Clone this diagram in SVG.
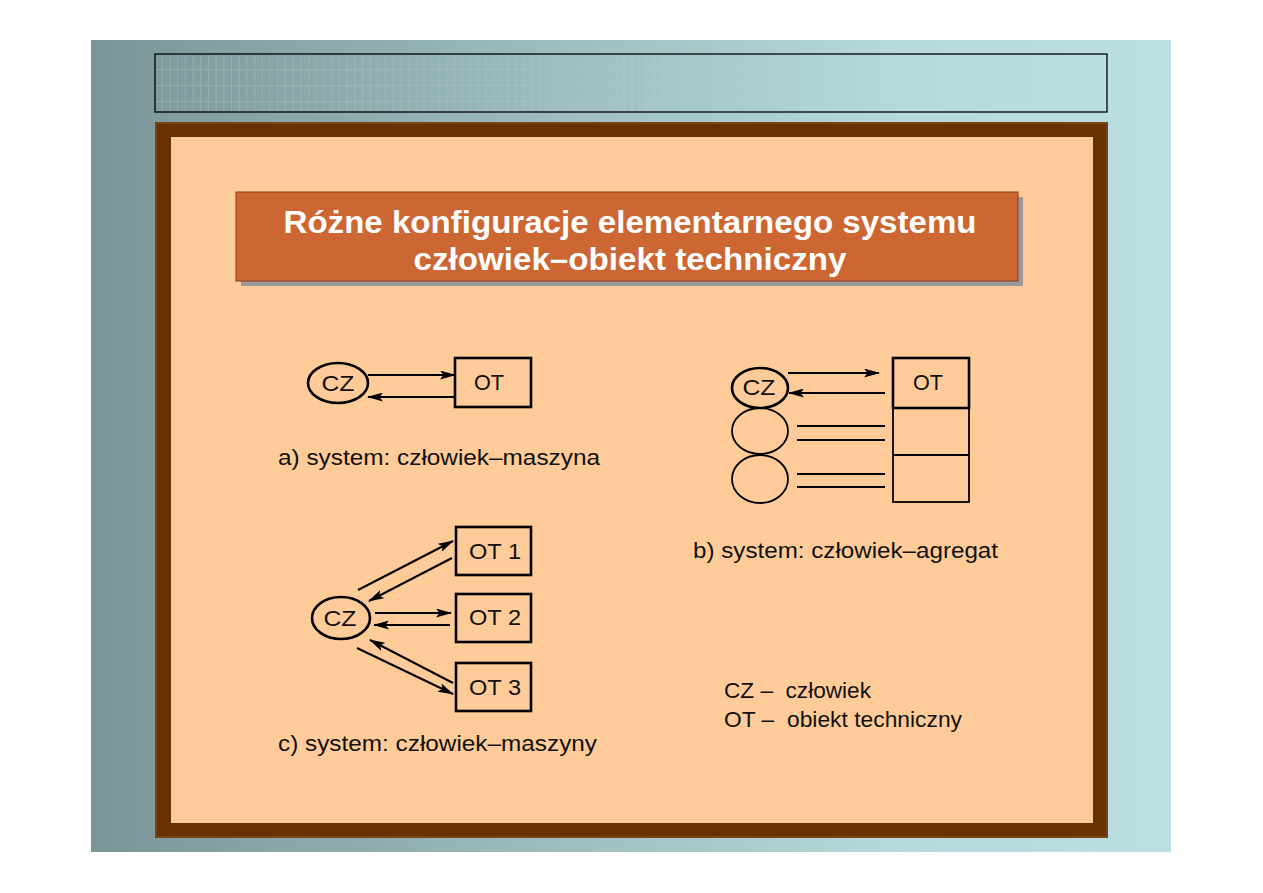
<svg xmlns="http://www.w3.org/2000/svg" width="1263" height="893" viewBox="0 0 1263 893">
<defs>
<linearGradient id="bg" x1="0" y1="0" x2="1" y2="0">
<stop offset="0" stop-color="#7a9597"/>
<stop offset="0.45" stop-color="#9fbfc2"/>
<stop offset="0.75" stop-color="#b5d9dc"/>
<stop offset="1" stop-color="#bbdfe2"/>
</linearGradient>
<linearGradient id="fade" x1="0" y1="0" x2="1" y2="0">
<stop offset="0" stop-color="#fff" stop-opacity="1"/>
<stop offset="0.75" stop-color="#fff" stop-opacity="0"/>
</linearGradient>
<pattern id="grid" x="155" y="54" width="7.7" height="16" patternUnits="userSpaceOnUse">
<path d="M7.2 0V16M0 15.5H7.7" stroke="#ffffff" stroke-width="1" fill="none" stroke-opacity="0.18"/>
</pattern>
<mask id="gm"><rect x="155" y="54" width="952" height="58" fill="url(#fade)"/></mask>
<marker id="ah" viewBox="0 0 16 9" refX="15" refY="4.5" markerWidth="16" markerHeight="9" markerUnits="userSpaceOnUse" orient="auto">
<path d="M0 0L16 4.5L0 9L3.5 4.5Z" fill="#000"/>
</marker>
<style>
.t{font-family:"Liberation Sans",Arial,sans-serif;fill:#111;font-size:22.5px}
.n{font-family:"Liberation Sans",Arial,sans-serif;fill:#111;font-size:22.5px;text-anchor:middle}
.ttl{font-family:"Liberation Sans",Arial,sans-serif;fill:#fff;font-size:31.5px;font-weight:bold;text-anchor:middle}
.sh{fill:none;stroke:#000;stroke-width:2.6}
.ln{stroke:#000;stroke-width:1.8;fill:none}
.ar{stroke:#000;stroke-width:2;fill:none;marker-end:url(#ah)}
</style>
</defs>
<rect width="1263" height="893" fill="#fff"/>
<rect x="91" y="40" width="1080" height="812" fill="url(#bg)"/>
<g id="header">
<rect x="155" y="54" width="952" height="58" fill="url(#grid)" mask="url(#gm)"/>
<rect x="155" y="54" width="952" height="58" fill="none" stroke="#000" stroke-width="1.3"/>
</g>
<g id="frame">
<rect x="155" y="122" width="953" height="716" fill="#663300"/>
<rect x="156" y="123" width="951" height="714" fill="none" stroke="#7a4316" stroke-width="2"/>
<rect x="171" y="137" width="922" height="686" fill="#ffcc99"/>
</g>
<g id="title">
<rect x="241" y="197" width="782" height="89" fill="#999"/>
<rect x="236" y="192" width="782" height="89" fill="#cc6633" stroke="#8a3d1a" stroke-width="1"/>
<text class="ttl" x="630" y="233" textLength="693" lengthAdjust="spacingAndGlyphs">Różne konfiguracje elementarnego systemu</text>
<text class="ttl" x="630" y="270" textLength="433" lengthAdjust="spacingAndGlyphs">człowiek–obiekt techniczny</text>
</g>
<g id="a-cz"><ellipse class="sh" cx="338" cy="383" rx="30" ry="20"/><text class="n" x="338" y="391" textLength="33" lengthAdjust="spacingAndGlyphs">CZ</text></g>
<g id="a-ot"><rect class="sh" x="455" y="358" width="76" height="49"/><text class="n" x="489" y="390" textLength="30" lengthAdjust="spacingAndGlyphs">OT</text></g>
<text class="t" x="278" y="465" textLength="322" lengthAdjust="spacingAndGlyphs">a) system: człowiek–maszyna</text>
<g id="b-cz"><ellipse class="sh" cx="760" cy="388" rx="28" ry="20"/><text class="n" x="759" y="395" textLength="33" lengthAdjust="spacingAndGlyphs">CZ</text></g>
<g id="b-h2"><ellipse class="ln" cx="760" cy="431" rx="28" ry="23"/></g>
<g id="b-h3"><ellipse class="ln" cx="760" cy="479" rx="28" ry="24"/></g>
<g id="b-ot">
<rect class="ln" x="893" y="408" width="76" height="94"/>
<line class="ln" x1="893" y1="455" x2="969" y2="455"/>
<rect class="sh" x="893" y="358" width="76" height="50" stroke-width="2.8"/>
<text class="n" x="928" y="390" textLength="30" lengthAdjust="spacingAndGlyphs">OT</text>
</g>
<text class="t" x="693" y="558" textLength="305" lengthAdjust="spacingAndGlyphs">b) system: człowiek–agregat</text>
<g id="c-cz"><ellipse class="sh" cx="341" cy="618" rx="29" ry="21"/><text class="n" x="340" y="626" textLength="33" lengthAdjust="spacingAndGlyphs">CZ</text></g>
<g id="c-ot1"><rect class="sh" x="456" y="527" width="75" height="48"/><text class="n" x="495" y="559" textLength="52" lengthAdjust="spacingAndGlyphs">OT 1</text></g>
<g id="c-ot2"><rect class="sh" x="456" y="594" width="75" height="48"/><text class="n" x="495" y="625" textLength="52" lengthAdjust="spacingAndGlyphs">OT 2</text></g>
<g id="c-ot3"><rect class="sh" x="456" y="663" width="75" height="48"/><text class="n" x="495" y="695" textLength="52" lengthAdjust="spacingAndGlyphs">OT 3</text></g>
<text class="t" x="278" y="751" textLength="319" lengthAdjust="spacingAndGlyphs">c) system: człowiek–maszyny</text>
<g id="connectors">
<line class="ar" x1="368" y1="375" x2="455" y2="375"/>
<line class="ar" x1="455" y1="397" x2="368" y2="397"/>
<line class="ar" x1="788" y1="373" x2="879" y2="373"/>
<line class="ar" x1="885" y1="393" x2="789" y2="393"/>
<line class="ln" x1="797" y1="426" x2="885" y2="426"/>
<line class="ln" x1="797" y1="440" x2="885" y2="440"/>
<line class="ln" x1="797" y1="474" x2="885" y2="474"/>
<line class="ln" x1="797" y1="487" x2="885" y2="487"/>
<line class="ar" x1="358" y1="590" x2="453" y2="541"/>
<line class="ar" x1="452" y1="558" x2="369" y2="601"/>
<line class="ar" x1="375" y1="613" x2="451" y2="613"/>
<line class="ar" x1="450" y1="625" x2="374" y2="625"/>
<line class="ar" x1="453" y1="683" x2="370" y2="640"/>
<line class="ar" x1="357" y1="648" x2="453" y2="694"/>
</g>
<g id="legend">
<text class="t" x="724" y="698" xml:space="preserve" textLength="147" lengthAdjust="spacingAndGlyphs">CZ –  człowiek</text>
<text class="t" x="724" y="727" xml:space="preserve" textLength="238" lengthAdjust="spacingAndGlyphs">OT –  obiekt techniczny</text>
</g>
</svg>
